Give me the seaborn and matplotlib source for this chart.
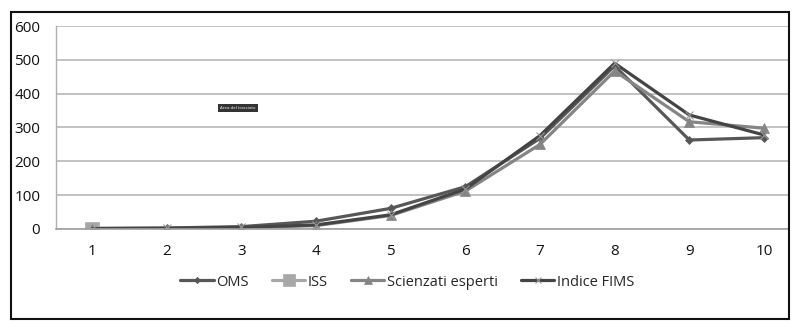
import matplotlib
matplotlib.use("Agg")
import matplotlib.pyplot as plt
import seaborn as sns
import numpy as np
import pandas as pd
from matplotlib.patches import Rectangle

x_vals = [1, 2, 3, 4, 5, 6, 7, 8, 9, 10]
oms = [2, 3, 7, 23, 61, 125, 268, 482, 263, 270]
iss = [0, np.nan, np.nan, np.nan, np.nan, np.nan, np.nan, np.nan, np.nan, np.nan]
scienzati = [1, 1, 4, 10, 40, 112, 250, 467, 317, 298]
fims = [1, 2, 5, 12, 42, 118, 276, 490, 337, 278]
series_names = ["OMS", "ISS", "Scienzati esperti", "Indice FIMS"]
y_ticks = [0, 100, 200, 300, 400, 500, 600]

sns.set_theme(style="white")
plt.rcParams['font.family'] = ['Open Sans', 'DejaVu Sans']

fig = plt.figure(figsize=(8.01, 3.30), dpi=100)
W, H = 801, 330
ax = fig.add_axes([55.5 / W, 1 - 229 / H, (789 - 55.5) / W, (229 - 26) / H])

styles = {
    "OMS": dict(color="#575757", marker="D", markersize=4, lw=2.3, mew=0.5, mec="#575757"),
    "ISS": dict(color="#a8a8a8", marker="s", markersize=10, lw=2.3, mew=0.5, mec="#a8a8a8"),
    "Scienzati esperti": dict(color="#858585", marker="^", markersize=7, lw=2.3, mew=0.5, mec="#858585"),
    "Indice FIMS": dict(color="#444444", marker="x", markersize=6, lw=2.3, mew=0.8, mec="#9a9a9a"),
}
data = {"OMS": oms, "ISS": iss, "Scienzati esperti": scienzati, "Indice FIMS": fims}

for name in series_names:
    df = pd.DataFrame({"x": x_vals, "y": data[name]})
    st = styles[name]
    sns.lineplot(data=df, x="x", y="y", ax=ax, color=st["color"], marker=st["marker"],
                 markersize=st["markersize"], linewidth=st["lw"], markeredgecolor=st["mec"],
                 markeredgewidth=st["mew"], label=name, legend=False)

ax.set_xlim(1 - 36.5 / 74.6, 10 + 25 / 74.6)
ax.set_ylim(0, 600)
ax.set_yticks(y_ticks)
ax.set_xticks(x_vals)
ax.set_xticklabels([str(v) for v in x_vals])
ax.set_xlabel("")
ax.set_ylabel("")
ax.yaxis.grid(True, color="#b8b8b8", lw=1.2)
ax.set_axisbelow(True)
for s in ["top", "right"]:
    ax.spines[s].set_visible(False)
ax.spines["left"].set_color("#b0b0b0")
ax.spines["bottom"].set_color("#a0a0a0")
ax.spines["left"].set_linewidth(1)
ax.spines["bottom"].set_linewidth(1.2)
ax.tick_params(axis="both", length=0, labelsize=11, colors="#111111")
ax.tick_params(axis="x", pad=11)
ax.tick_params(axis="y", pad=11)

handles, labels = ax.get_legend_handles_labels()
fig.legend(handles, labels, loc="center", bbox_to_anchor=(407 / W, 1 - 282 / H), ncol=4,
           frameon=False, fontsize=10.5, handlelength=2.3, handletextpad=0.15,
           columnspacing=1.6, markerscale=0.8)

ax.text(238 / W, 1 - 108 / H, "Area del tracciato", transform=fig.transFigure, fontsize=3.2,
        color="white", ha="center", va="center",
        bbox=dict(boxstyle="square,pad=0.4", facecolor="#333333", edgecolor="none"))

fig.patches.append(Rectangle((10.5 / W, 1 - 319 / H), (789 - 10.5) / W, (319 - 11.5) / H,
                             transform=fig.transFigure, fill=False, edgecolor="#111111", lw=1.5))

fig.savefig("out.png", dpi=100)
